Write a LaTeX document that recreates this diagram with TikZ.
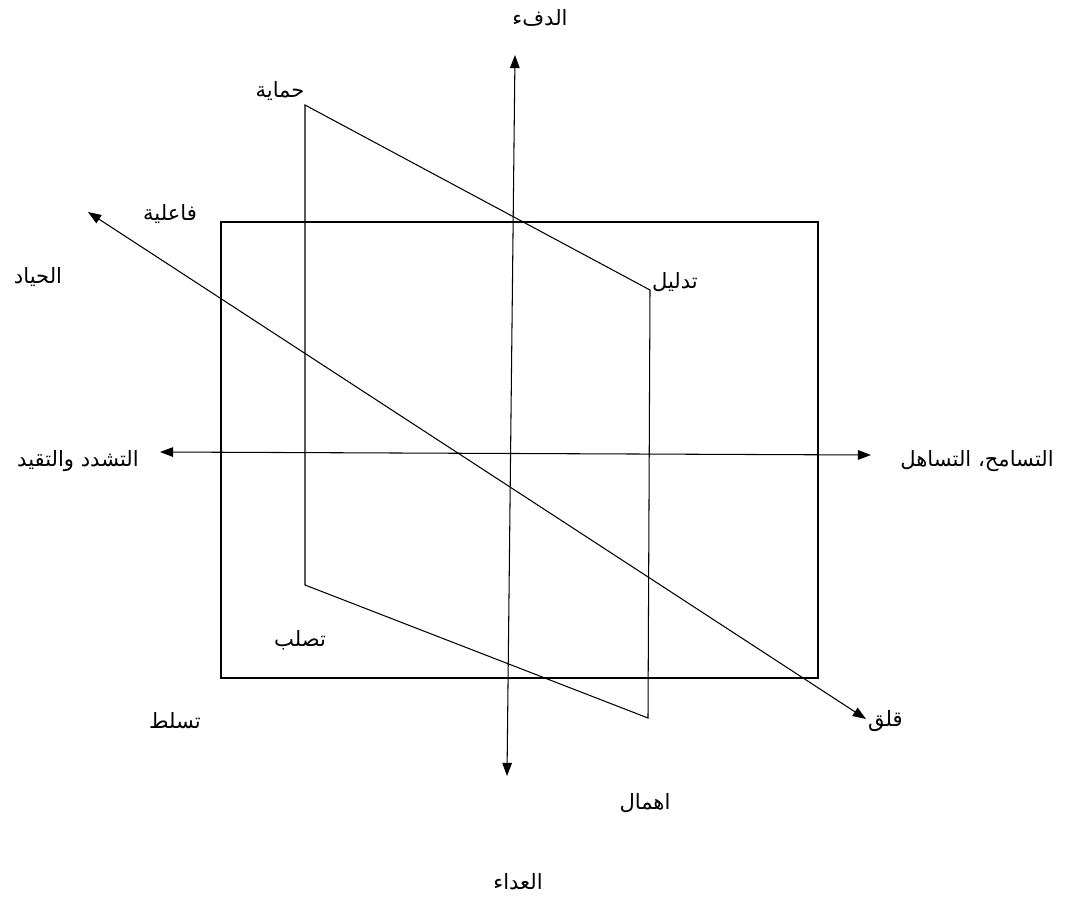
\documentclass[tikz,border=0pt]{standalone}
\usepackage{fontspec}
\newfontfamily\arabicfont[Script=Arabic]{DejaVu Sans}
\TeXXeTstate=1
\usetikzlibrary{arrows.meta}
\newcommand{\arab}[1]{\beginR #1\endR}

\begin{document}
\begin{tikzpicture}[x=0.02cm,y=-0.02cm,
    every node/.style={font=\arabicfont\fontsize{12}{14}\selectfont, inner sep=1pt},
    thinline/.style={line width=0.6pt},
    twoway/.style={thinline, {Triangle[length=7.5pt,width=5.5pt]}-{Triangle[length=7.5pt,width=5.5pt]}}]
  \useasboundingbox (0,0) rectangle (1083,913);
  % axes
  \coordinate (warmtop) at (515,55);
  \coordinate (hostbot) at (507,776);
  \coordinate (strictl) at (160,452);
  \coordinate (tolerr) at (871,455);
  \draw[twoway] (warmtop) -- (hostbot);
  \draw[twoway] (strictl) -- (tolerr);
  % diagonal
  \coordinate (effect) at (88,212);
  \coordinate (anxious) at (866,719);
  \draw[twoway] (effect) -- (anxious);
  % square
  \coordinate (sqa) at (221,222);
  \coordinate (sqb) at (818,678);
  \draw[thinline] (sqa) rectangle (sqb);
  % parallelogram
  \coordinate (protect) at (305,105);
  \coordinate (spoil) at (650,290);
  \coordinate (neglect) at (648,718);
  \coordinate (rigid) at (305,585);
  \draw[thinline] (protect) -- (spoil) -- (neglect) -- (rigid) -- cycle;
  % labels
  \node (lwarm) at (540,18) {\arab{الدفء}};
  \node (lprotect) at (280,91) {\arab{حماية}};
  \node (leffect) at (170,214) {\arab{فاعلية}};
  \node (lneutral) at (38,277) {\arab{الحياد}};
  \node (lspoil) at (675,282) {\arab{تدليل}};
  \node (lstrict) at (78,461) {\arab{التشدد والتقيد}};
  \node (ltoler) at (977,461) {\arab{التسامح، التساهل}};
  \node (lrigid) at (300,640) {\arab{تصلب}};
  \node (ldomin) at (175,721) {\arab{تسلط}};
  \node[anchor=west] (lanx) at (866,721) {\arab{قلق}};
  \node (lneglect) at (645,803) {\arab{اهمال}};
  \node (lhost) at (518,882) {\arab{العداء}};
\end{tikzpicture}
\end{document}
